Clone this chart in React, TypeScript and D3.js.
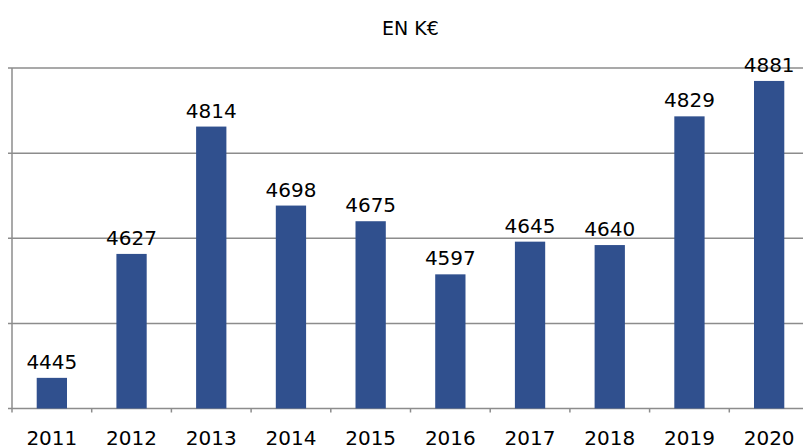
import React from "react";
import * as d3 from "d3";

const years = ["2011","2012","2013","2014","2015","2016","2017","2018","2019","2020"];
const values = [4445,4627,4814,4698,4675,4597,4645,4640,4829,4881];
const yTicks = [4400,4525,4650,4775,4900];
const title = "EN K€";

export default function App() {
  const W = 803, H = 448;
  const left = 12, right = 809, top = 68, bottom = 408.5;
  const x = d3.scaleBand().domain(years).range([left, right]).paddingInner(0.62).paddingOuter(0.31);
  const y = d3.scaleLinear().domain([4400, 4900]).range([bottom, top]);
  const font = "'DejaVu Sans', sans-serif";
  const step = (right - left) / years.length;
  return (
    <svg width={W} height={H} style={{ position: "absolute", left: 0, top: 0 }}>
      <rect width={W} height={H} fill="#fff" />
      <text x={(left + right) / 2} y={35} textAnchor="middle" fontFamily={font} fontSize={19} fill="#000">{title}</text>
      {yTicks.map((t) => (
        <line key={t} x1={left - 4} x2={right} y1={y(t)} y2={y(t)} stroke="#8c8c8c" strokeWidth={1.5} />
      ))}
      <line x1={left} x2={left} y1={top} y2={bottom + 4} stroke="#8c8c8c" strokeWidth={1.5} />
      {years.map((yr, i) => (
        <line key={"t" + yr} x1={left + (i + 1) * step} x2={left + (i + 1) * step} y1={bottom} y2={bottom + 4} stroke="#8c8c8c" strokeWidth={1.5} />
      ))}
      {years.map((yr, i) => (
        <g key={yr}>
          <rect x={x(yr)} y={y(values[i])} width={x.bandwidth()} height={bottom - y(values[i])} fill="#30508e" />
          <text x={x(yr)! + x.bandwidth() / 2} y={y(values[i]) - 9} textAnchor="middle" fontFamily={font} fontSize={20} fill="#000">{values[i]}</text>
          <text x={x(yr)! + x.bandwidth() / 2} y={445} textAnchor="middle" fontFamily={font} fontSize={20} fill="#000">{yr}</text>
        </g>
      ))}
    </svg>
  );
}
